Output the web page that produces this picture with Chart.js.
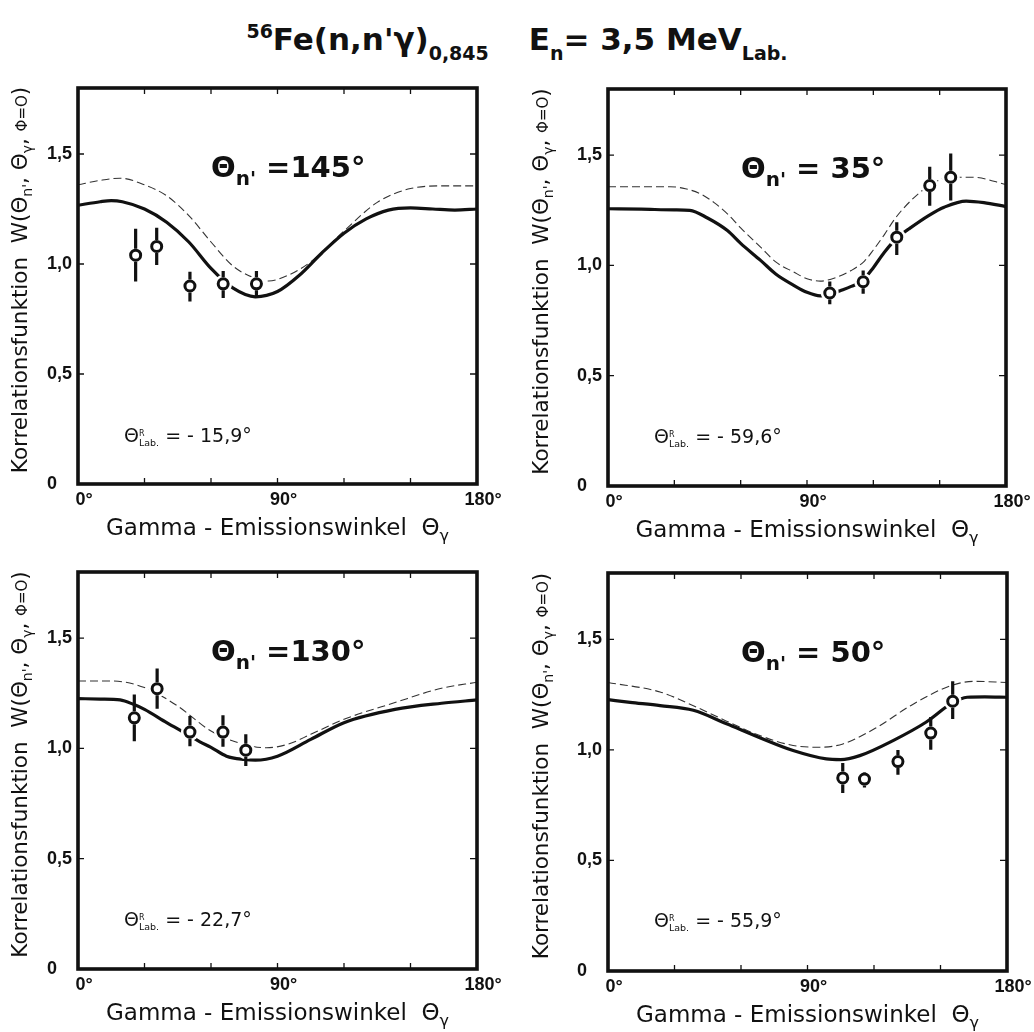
<!DOCTYPE html>
<html>
<head>
<meta charset="utf-8">
<script src="https://cdn.jsdelivr.net/npm/chart.js@4.4.0/dist/chart.umd.min.js"></script>
<style>
  html, body { margin: 0; padding: 0; background: #fff; width: 1034px; height: 1032px; overflow: hidden; position: relative; }
  canvas { position: absolute; }
  #title { position: absolute; left: 0; top: 20px; width: 1034px; text-align: center; font-family: 'DejaVu Sans'; font-weight: bold; font-size: 31px; line-height: 38px; color: #111; white-space: nowrap; }
  #title .sup { font-size: 19px; vertical-align: 12px; line-height: 0; }
  #title .sub { font-size: 19px; vertical-align: -10px; line-height: 0; }
  #title .gap { display: inline-block; width: 40px; }
</style>
</head>
<body>
<div id="title"><span class="sup">56</span>Fe(n,n'γ)<span class="sub">0,845</span><span class="gap"></span>E<span class="sub">n</span>= 3,5 MeV<span class="sub">Lab.</span></div>
<canvas id="p145"></canvas>
<canvas id="p35"></canvas>
<canvas id="p130"></canvas>
<canvas id="p50"></canvas>
<script>
// axis ticks
const xTicks = [0, 30, 60, 90, 120, 150, 180];
const xTickText = ['0°', '', '', '90°', '', '', '180°'];
const yTicks = [0, 0.5, 1.0, 1.5];
const yTickText = ['0', '0,5', '1,0', '1,5'];

// Θn' = 145°
const th145Solid = [0, 10, 15, 20, 30, 40, 50, 60, 70, 80, 90, 100, 110, 120, 130, 140, 150, 160, 170, 180];
const w145Solid = [1.267, 1.283, 1.288, 1.283, 1.25, 1.19, 1.10, 0.98, 0.89, 0.851, 0.875, 0.95, 1.05, 1.14, 1.205, 1.245, 1.255, 1.25, 1.245, 1.25];
const th145Dash = [0, 10, 19, 30, 40, 50, 60, 70, 80, 86, 95, 105, 120, 135, 150, 165, 180];
const w145Dash = [1.36, 1.38, 1.39, 1.36, 1.31, 1.22, 1.10, 0.99, 0.935, 0.923, 0.95, 1.01, 1.15, 1.28, 1.343, 1.355, 1.355];
const th145Pts = [26, 35.5, 50.5, 65.5, 80.5];
const w145Pts = [1.04, 1.08, 0.90, 0.91, 0.91];
const lo145 = [0.92, 0.995, 0.83, 0.845, 0.848];
const hi145 = [1.16, 1.165, 0.965, 0.968, 0.968];

// Θn' = 35°
const th35Solid = [0, 15, 30, 37, 45, 54, 60, 69, 76, 84, 90, 96, 100, 105, 110, 115, 120, 125, 131, 136, 145, 152, 162, 170, 180];
const w35Solid = [1.257, 1.255, 1.252, 1.25, 1.215, 1.158, 1.10, 1.023, 0.96, 0.91, 0.878, 0.862, 0.866, 0.885, 0.905, 0.93, 0.99, 1.06, 1.128, 1.165, 1.226, 1.264, 1.292, 1.285, 1.267];
const th35Dash = [0, 28, 35, 42, 48, 54, 60, 69, 76, 84, 90, 96, 103, 110, 116, 120, 125, 130, 137, 145, 155, 165, 180];
const w35Dash = [1.357, 1.357, 1.348, 1.324, 1.285, 1.234, 1.17, 1.083, 1.015, 0.97, 0.94, 0.929, 0.945, 0.977, 1.02, 1.07, 1.14, 1.215, 1.294, 1.36, 1.40, 1.40, 1.367];
const th35Pts = [100.3, 115.4, 130.6, 145.5, 155];
const w35Pts = [0.875, 0.926, 1.128, 1.362, 1.40];
const lo35 = [0.824, 0.872, 1.047, 1.271, 1.294];
const hi35 = [0.927, 0.977, 1.196, 1.448, 1.507];

// Θn' = 130°
const th130Solid = [0, 10, 19, 25, 30, 40, 50, 55, 60, 67, 75, 80, 90, 105, 120, 143, 164, 180];
const w130Solid = [1.226, 1.224, 1.22, 1.20, 1.177, 1.117, 1.06, 1.03, 1.005, 0.965, 0.95, 0.947, 0.965, 1.041, 1.117, 1.177, 1.205, 1.22];
const th130Dash = [0, 15, 30, 45, 60, 75, 85, 95, 105, 120, 143, 164, 180];
const w130Dash = [1.306, 1.306, 1.276, 1.192, 1.079, 1.018, 1.003, 1.02, 1.064, 1.132, 1.208, 1.273, 1.30];
const th130Pts = [25.4, 35.7, 50.5, 65.4, 75.7];
const w130Pts = [1.139, 1.271, 1.074, 1.074, 0.992];
const lo130 = [1.033, 1.18, 1.01, 1.008, 0.92];
const hi130 = [1.245, 1.362, 1.147, 1.15, 1.064];

// Θn' = 50°
const th50Solid = [0, 10, 23.5, 38.5, 53.5, 68.5, 83.5, 98.5, 105, 113.6, 128.6, 143.6, 155, 162, 170, 180];
const w50Solid = [1.227, 1.215, 1.2, 1.179, 1.118, 1.055, 0.997, 0.959, 0.956, 0.974, 1.042, 1.126, 1.21, 1.238, 1.24, 1.238];
const th50Dash = [0, 23.5, 38.5, 53.5, 68.5, 83.5, 95.5, 106, 121.5, 136.5, 154.5, 165, 180];
const w50Dash = [1.305, 1.262, 1.2, 1.13, 1.065, 1.02, 1.012, 1.027, 1.103, 1.2, 1.29, 1.31, 1.305];
const th50Pts = [105.9, 115.7, 130.8, 145.6, 155.5];
const w50Pts = [0.873, 0.868, 0.947, 1.076, 1.22];
const lo50 = [0.805, 0.83, 0.888, 1.001, 1.14];
const hi50 = [0.941, 0.90, 1.0, 1.149, 1.31];

const FONT = 'DejaVu Sans';
const TICK_FONT = 'Liberation Sans';
const INK = '#111';

function zip(xs, ys) {
  return xs.map((x, i) => ({ x: x, y: ys[i] }));
}

function fontOf(p) {
  return (p.w || 'normal') + ' ' + p.s + 'px "' + FONT + '"';
}

// draws a row of text pieces (sub/superscripts via dy), x is start or centre
function rich(ctx, x, y, parts, center) {
  let w = 0;
  parts.forEach(p => {
    ctx.font = fontOf(p);
    if (p.adv !== false) w += ctx.measureText(p.t).width;
  });
  let cx = center ? x - w / 2 : x;
  ctx.textAlign = 'left';
  ctx.textBaseline = 'alphabetic';
  parts.forEach(p => {
    ctx.font = fontOf(p);
    ctx.fillText(p.t, cx, y + (p.dy || 0));
    if (p.adv !== false) cx += ctx.measureText(p.t).width;
  });
}

const yTitle = [
  { t: 'Korrelationsfunktion  W(', s: 21.5 },
  { t: 'Θ', s: 21.5 }, { t: "n'", s: 14, dy: 5 }, { t: ', ', s: 21.5 },
  { t: 'Θ', s: 21.5 }, { t: 'γ', s: 14, dy: 5 }, { t: ', ', s: 21.5 },
  { t: 'Φ=O', s: 15 }, { t: ')', s: 21.5 }
];
const xTitle = [
  { t: 'Gamma - Emissionswinkel  Θ', s: 23 }, { t: 'γ', s: 16, dy: 6 }
];

const frame = {
  id: 'frame',
  afterDatasetsDraw(chart, args, o) {
    const ctx = chart.ctx, xs = chart.scales.x, ys = chart.scales.y;
    ctx.save();
    ctx.strokeStyle = INK;
    ctx.lineWidth = 3.2;
    ctx.lineCap = 'butt';
    o.th.forEach((t, i) => {
      const px = xs.getPixelForValue(t);
      const pc = ys.getPixelForValue(o.w[i]);
      const ph = ys.getPixelForValue(o.hi[i]);
      const pl = ys.getPixelForValue(o.lo[i]);
      ctx.beginPath();
      if (ph < pc - 6.5) { ctx.moveTo(px, ph); ctx.lineTo(px, pc - 6.5); }
      if (pl > pc + 6.5) { ctx.moveTo(px, pc + 6.5); ctx.lineTo(px, pl); }
      ctx.stroke();
    });
    ctx.restore();
  },
  afterDraw(chart, args, o) {
    const ctx = chart.ctx, a = chart.chartArea, xs = chart.scales.x, ys = chart.scales.y;
    ctx.save();
    ctx.strokeStyle = INK;
    ctx.fillStyle = INK;
    // inward ticks
    ctx.lineWidth = 1.3;
    ctx.beginPath();
    xTicks.forEach(v => {
      const px = xs.getPixelForValue(v);
      ctx.moveTo(px, a.top); ctx.lineTo(px, a.top + 6);
      ctx.moveTo(px, a.bottom); ctx.lineTo(px, a.bottom - 6);
    });
    yTicks.forEach(v => {
      const py = ys.getPixelForValue(v);
      ctx.moveTo(a.left, py); ctx.lineTo(a.left + 6, py);
      ctx.moveTo(a.right, py); ctx.lineTo(a.right - 7, py);
    });
    ctx.stroke();
    // frame
    ctx.lineWidth = 3.6;
    ctx.strokeRect(a.left, a.top, a.right - a.left, a.bottom - a.top);

    // Θn' label
    rich(ctx, a.left + 133, a.top + 89, [
      { t: 'Θ', s: 29, w: 'bold' },
      { t: "n'", s: 20, w: 'bold', dy: 8 },
      { t: o.label, s: 29, w: 'bold' }
    ], false);
    // recoil angle
    rich(ctx, a.left + 46, a.top + 354, [
      { t: 'Θ', s: 19 },
      { t: 'R', s: 8, dy: -6, adv: false },
      { t: 'Lab.', s: 9.5, dy: 4 },
      { t: ' = ' + o.recoil, s: 19 }
    ], false);
    // x title
    rich(ctx, (a.left + a.right) / 2, a.bottom + 51, xTitle, true);
    // y title, rotated
    ctx.translate(a.left + o.ytx, (a.top + a.bottom) / 2 - 6);
    ctx.rotate(-Math.PI / 2);
    rich(ctx, 0, 0, yTitle, true);
    ctx.restore();
  }
};

function panel(id, box, d) {
  const cv = document.getElementById(id);
  const left = box[0] - 78, top = box[1] - 14;
  const w = box[2] - box[0] + 78 + 30, h = box[3] - box[1] + 14 + 60;
  cv.width = w; cv.height = h;
  cv.style.left = left + 'px'; cv.style.top = top + 'px';
  cv.style.width = w + 'px'; cv.style.height = h + 'px';
  const pts = zip(d.th, d.w);
  return new Chart(cv, {
    type: 'scatter',
    data: {
      datasets: [
        { data: zip(d.sx, d.sy), showLine: true, borderColor: INK, borderWidth: 3.2, pointRadius: 0, cubicInterpolationMode: 'monotone', order: 3 },
        { data: zip(d.dx, d.dy), showLine: true, borderColor: '#333', borderWidth: 1.1, borderDash: [8, 4], pointRadius: 0, cubicInterpolationMode: 'monotone', order: 3 },
        { data: pts, pointRadius: 9, pointBorderWidth: 0, pointBackgroundColor: '#fff', pointBorderColor: '#fff', order: 1 },
        { data: pts, pointRadius: 5, pointBorderWidth: 3, pointBackgroundColor: '#fff', pointBorderColor: INK, order: 0 }
      ]
    },
    options: {
      responsive: false,
      animation: false,
      events: [],
      layout: { padding: { left: 47, top: 14, right: 30, bottom: 30 } },
      scales: {
        x: {
          min: 0, max: 180,
          grid: { display: false, drawTicks: false },
          border: { display: false },
          afterBuildTicks: s => { s.ticks = xTicks.map(v => ({ value: v })); },
          afterFit: s => { s.height = 30; s.paddingLeft = 0; s.paddingRight = 0; },
          ticks: {
            autoSkip: false, maxRotation: 0, padding: 5, labelOffset: 6, color: INK,
            font: { family: TICK_FONT, size: 18, weight: 'bold' },
            callback: v => xTickText[xTicks.indexOf(v)] || ''
          }
        },
        y: {
          min: 0, max: 1.8,
          grid: { display: false, drawTicks: false },
          border: { display: false },
          afterBuildTicks: s => { s.ticks = yTicks.map(v => ({ value: v })); },
          afterFit: s => { s.width = 31; s.paddingTop = 0; s.paddingBottom = 0; },
          ticks: {
            crossAlign: 'far', color: INK,
            font: { family: TICK_FONT, size: 18, weight: 'bold' },
            callback: v => yTickText[yTicks.indexOf(v)] || ''
          }
        }
      },
      plugins: {
        legend: { display: false },
        tooltip: { enabled: false },
        frame: { th: d.th, w: d.w, lo: d.lo, hi: d.hi, label: d.label, recoil: d.recoil, ytx: d.ytx }
      }
    },
    plugins: [frame]
  });
}

panel('p145', [78, 88, 477, 484], {
  sx: th145Solid, sy: w145Solid, dx: th145Dash, dy: w145Dash,
  th: th145Pts, w: w145Pts, lo: lo145, hi: hi145,
  label: ' =145°', recoil: '- 15,9°', ytx: -51
});
panel('p35', [608, 89, 1006, 486], {
  sx: th35Solid, sy: w35Solid, dx: th35Dash, dy: w35Dash,
  th: th35Pts, w: w35Pts, lo: lo35, hi: hi35,
  label: ' = 35°', recoil: '- 59,6°', ytx: -60
});
panel('p130', [78, 572, 477, 969], {
  sx: th130Solid, sy: w130Solid, dx: th130Dash, dy: w130Dash,
  th: th130Pts, w: w130Pts, lo: lo130, hi: hi130,
  label: ' =130°', recoil: '- 22,7°', ytx: -51
});
panel('p50', [608, 573, 1007, 971], {
  sx: th50Solid, sy: w50Solid, dx: th50Dash, dy: w50Dash,
  th: th50Pts, w: w50Pts, lo: lo50, hi: hi50,
  label: ' = 50°', recoil: '- 55,9°', ytx: -60
});
</script>
</body>
</html>
